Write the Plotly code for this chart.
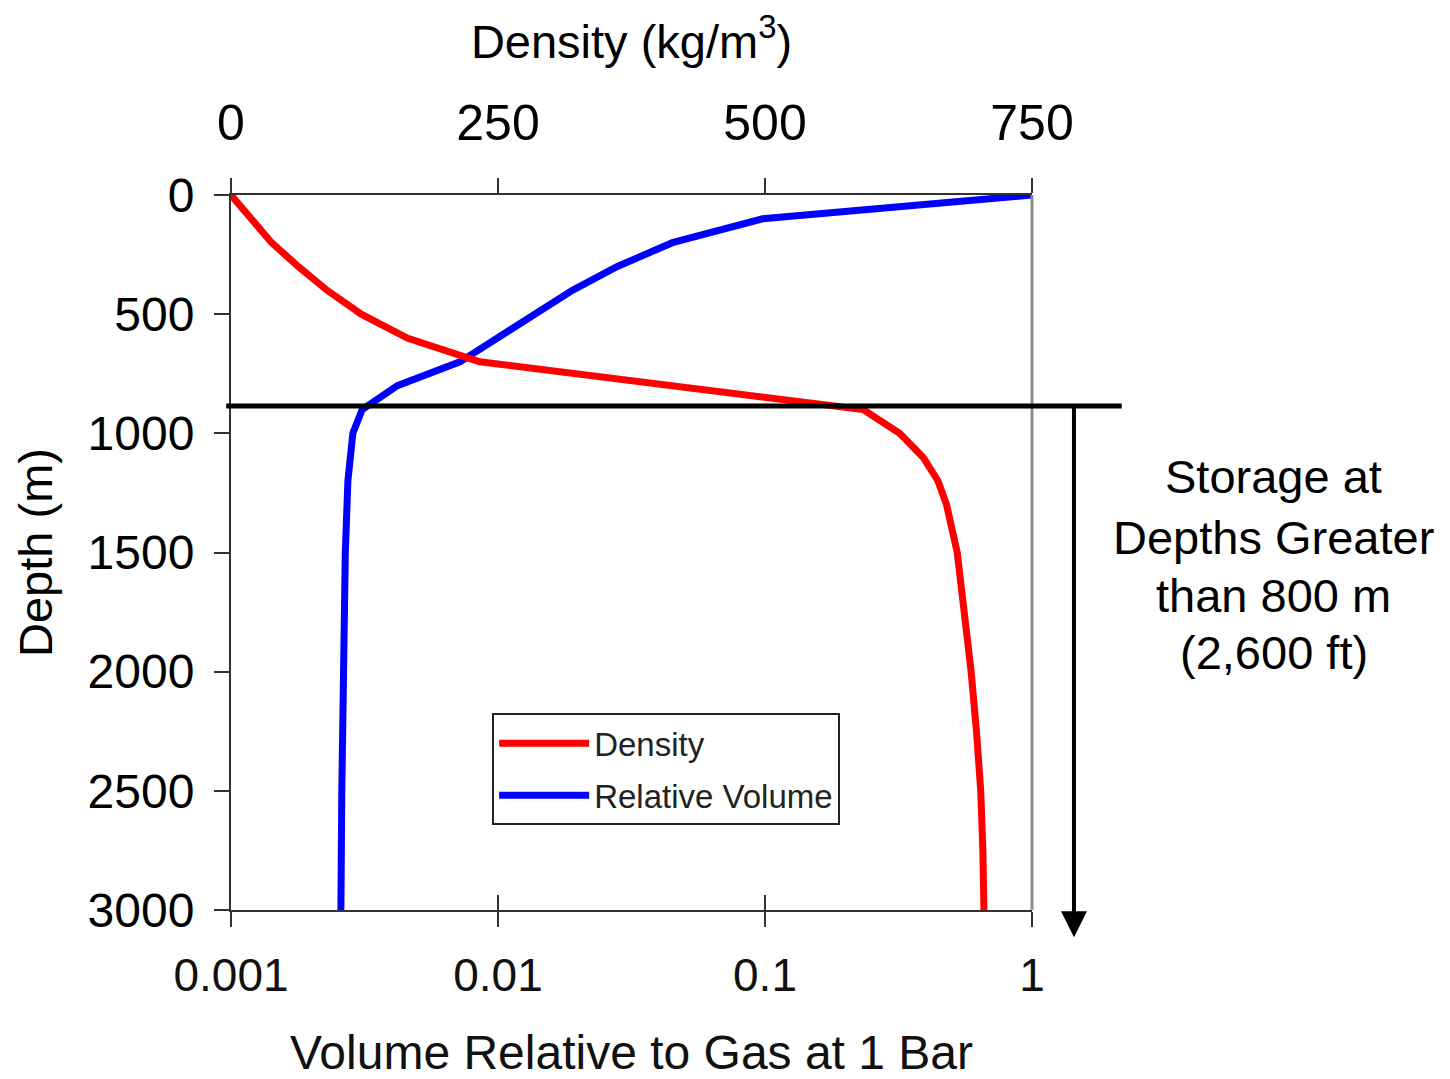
import plotly.graph_objects as go

# ---- data ----
depth_density = [0, 100, 200, 300, 400, 500, 600, 700, 800, 850, 900, 1000,
                 1100, 1200, 1300, 1500, 1750, 2000, 2250, 2500, 2750, 3000]
density = [0, 19, 38, 63, 90, 122, 165, 233, 410, 500, 592, 626,
           648, 662, 670, 680, 687, 693, 698, 702, 704, 705]

depth_volume = [0, 100, 200, 300, 400, 500, 600, 700, 800, 900, 1000,
                1100, 1200, 1500, 2000, 2500, 3000]
rel_volume = [1.0, 0.098, 0.045, 0.028, 0.019, 0.0138, 0.0101, 0.0072, 0.0042,
              0.0031, 0.00286, 0.0028, 0.00274, 0.00268, 0.00263, 0.0026, 0.00258]

vol_ticks = [0.001, 0.01, 0.1, 1]
vol_ticktext = ["0.001", "0.01", "0.1", "1"]
dens_ticks = [0, 250, 500, 750]
depth_ticks = [0, 500, 1000, 1500, 2000, 2500, 3000]

storage_depth = 885
label_lines = ["Storage at", "Depths Greater", "than 800 m", "(2,600 ft)"]
label_y = [0.606, 0.521, 0.440, 0.360]   # paper positions of each line

FONT = "Liberation Sans, Arial, sans-serif"
AX = "#333333"

fig = go.Figure()
fig.add_trace(go.Scatter(x=density, y=depth_density, xaxis="x2", yaxis="y",
                         mode="lines", name="Density", legendgroup="a",
                         line=dict(color="#ff0000", width=7)))
fig.add_trace(go.Scatter(x=rel_volume, y=depth_volume, xaxis="x", yaxis="y",
                         mode="lines", name="Relative Volume", legendgroup="b",
                         line=dict(color="#0000ff", width=7)))
# invisible trace to activate xaxis3 (inside half of the cross ticks)
fig.add_trace(go.Scatter(x=[0.001], y=[0], xaxis="x3", yaxis="y", mode="markers",
                         marker=dict(opacity=0), showlegend=False, hoverinfo="skip"))

fig.update_layout(
    width=1442, height=1071, autosize=False,
    margin=dict(l=223, r=418, t=187, b=169, pad=0),
    paper_bgcolor="white", plot_bgcolor="white",
    font=dict(family=FONT, color="black"),
    xaxis=dict(type="log", range=[-3, 0], tickvals=vol_ticks, ticktext=vol_ticktext,
               ticks="outside", ticklen=15, tickwidth=2, tickcolor=AX,
               showline=True, linecolor=AX, linewidth=2, showgrid=False, zeroline=False,
               tickfont=dict(size=46, color="#111"), ticklabelstandoff=9,
               title=dict(text="Volume Relative to Gas at 1 Bar", font=dict(size=48, color="#111"),
                          standoff=47),
               automargin=False),
    xaxis3=dict(type="log", range=[-3, 0], tickvals=vol_ticks, showticklabels=False,
                overlaying="x", side="bottom", anchor="y",
                ticks="inside", ticklen=15, tickwidth=2, tickcolor=AX,
                showline=False, showgrid=False, zeroline=False, automargin=False),
    xaxis2=dict(range=[0, 750], tickvals=dens_ticks, overlaying="x", side="top", anchor="y",
                ticks="outside", ticklen=15, tickwidth=2, tickcolor=AX,
                showline=True, linecolor=AX, linewidth=2, showgrid=False, zeroline=False,
                tickfont=dict(size=50), ticklabelstandoff=18,
                title=dict(text="Density (kg/m<sup>3</sup>)", font=dict(size=47), standoff=25),
                automargin=False),
    yaxis=dict(range=[3000, 0], tickvals=depth_ticks,
               ticks="outside", ticklen=15, tickwidth=2, tickcolor=AX,
               showline=True, linecolor=AX, linewidth=2, showgrid=False, zeroline=False,
               tickfont=dict(size=48), ticklabelstandoff=10,
               title=dict(text="Depth (m)", font=dict(size=47), standoff=20),
               automargin=False),
    legend=dict(x=0.326, y=0.275, xanchor="left", yanchor="top",
                bgcolor="white", bordercolor="#222", borderwidth=2,
                font=dict(size=33, color="#222", family=FONT),
                itemwidth=90, tracegroupgap=6, traceorder="grouped"),
    showlegend=True,
)

# right frame line
fig.add_shape(type="line", xref="paper", yref="paper", x0=1, x1=1, y0=0, y1=1,
              line=dict(color="#8c8c8c", width=3))
# storage depth line
fig.add_shape(type="line", xref="paper", yref="y", x0=-0.006, x1=1.112,
              y0=storage_depth, y1=storage_depth, line=dict(color="black", width=5))
# downward arrow
fig.add_annotation(xref="paper", yref="paper", x=1.0524, y=-0.038, ax=0, ay=-531,
                   text="", showarrow=True, arrowhead=2, arrowwidth=4, arrowsize=1.3,
                   arrowcolor="black")
# side label, one line per annotation
for line_text, ly in zip(label_lines, label_y):
    fig.add_annotation(xref="paper", yref="paper", x=1.302, y=ly, xanchor="center",
                       yanchor="middle", showarrow=False, text=line_text,
                       font=dict(size=47, color="black"))

fig.write_html("out.html")
